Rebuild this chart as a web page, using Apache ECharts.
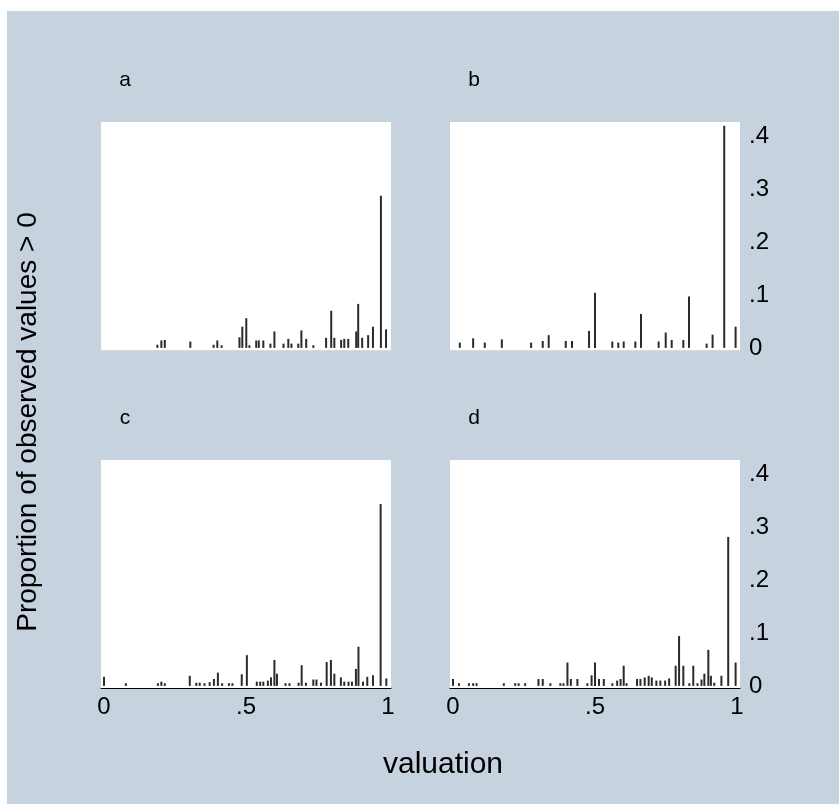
<!DOCTYPE html>
<html>
<head>
<meta charset="utf-8">
<script src="https://cdn.jsdelivr.net/npm/echarts@6/dist/echarts.min.js"></script>
<style>
html,body{margin:0;padding:0;background:#fff;}
#chart{width:839px;height:804px;}
</style>
</head>
<body>
<div id="chart"></div>
<script>
// ---- data ----
const panelLetters = ['a', 'b', 'c', 'd'];
const xTickValues = [0, 0.5, 1];
const xTickLabels = ['0', '.5', '1'];
const yTickValues = [0, 0.1, 0.2, 0.3, 0.4];
const yTickLabels = ['0', '.1', '.2', '.3', '.4'];
const xAxisTitle = 'valuation';
const yAxisTitle = 'Proportion of observed values > 0';

const aX = [0.188,0.202,0.214,0.304,0.386,0.399,0.414,0.477,0.487,0.501,0.512,0.536,0.545,0.561,0.586,0.600,0.632,0.649,0.660,0.684,0.695,0.712,0.737,0.782,0.800,0.811,0.835,0.846,0.860,0.888,0.895,0.909,0.930,0.947,0.975,0.993];
const aY = [0.006,0.014,0.015,0.012,0.006,0.014,0.005,0.020,0.040,0.056,0.005,0.014,0.014,0.014,0.008,0.031,0.008,0.017,0.008,0.008,0.033,0.017,0.005,0.019,0.070,0.019,0.015,0.017,0.017,0.031,0.083,0.019,0.024,0.040,0.287,0.035];

const bX = [0.024,0.071,0.112,0.172,0.275,0.316,0.337,0.397,0.419,0.479,0.500,0.561,0.582,0.601,0.642,0.662,0.724,0.749,0.770,0.811,0.831,0.893,0.914,0.955,0.995];
const bY = [0.010,0.018,0.010,0.016,0.010,0.013,0.024,0.013,0.013,0.032,0.104,0.012,0.010,0.012,0.012,0.064,0.012,0.029,0.015,0.015,0.097,0.008,0.025,0.419,0.040];

const cX = [0.000,0.077,0.190,0.202,0.214,0.302,0.325,0.337,0.354,0.372,0.387,0.401,0.416,0.440,0.452,0.485,0.503,0.538,0.550,0.561,0.577,0.588,0.600,0.609,0.639,0.653,0.685,0.696,0.711,0.737,0.748,0.764,0.784,0.799,0.811,0.834,0.846,0.861,0.873,0.887,0.896,0.912,0.927,0.947,0.974,0.994];
const cY = [0.017,0.005,0.005,0.008,0.005,0.019,0.006,0.006,0.005,0.007,0.013,0.025,0.005,0.005,0.005,0.022,0.058,0.008,0.008,0.008,0.010,0.016,0.049,0.023,0.005,0.005,0.006,0.039,0.006,0.012,0.012,0.006,0.045,0.049,0.023,0.016,0.008,0.008,0.008,0.032,0.074,0.008,0.017,0.020,0.343,0.014];

const dX = [0.000,0.021,0.056,0.071,0.083,0.179,0.219,0.231,0.254,0.301,0.316,0.343,0.378,0.389,0.403,0.415,0.438,0.473,0.488,0.500,0.514,0.531,0.561,0.578,0.590,0.601,0.611,0.648,0.660,0.675,0.689,0.700,0.716,0.730,0.747,0.761,0.784,0.796,0.811,0.832,0.846,0.861,0.875,0.885,0.899,0.908,0.920,0.945,0.969,0.995];
const dY = [0.013,0.005,0.005,0.005,0.005,0.005,0.005,0.005,0.005,0.013,0.013,0.005,0.005,0.005,0.044,0.013,0.013,0.005,0.020,0.044,0.013,0.013,0.005,0.010,0.013,0.038,0.005,0.013,0.013,0.016,0.019,0.016,0.010,0.010,0.010,0.014,0.038,0.094,0.038,0.005,0.038,0.005,0.012,0.023,0.068,0.019,0.006,0.019,0.281,0.044];

const panelXs = [aX, bX, cX, dX];
const panelYs = [aY, bY, cY, dY];

// ---- layout ----
const FONT = 'Liberation Sans, Arial, sans-serif';
const BG = '#c6d2de';
const BAR = '#2a2a2a';
const PW = 290, PH = 228;
const lefts = [101, 450, 101, 450];
const tops = [122, 122, 460, 460];
const X_MIN = -0.0105, X_MAX = 1.0105;
const Y_MIN = -0.004, Y_MAX = -0.004 + 228 / 530;

const grids = [], xAxes = [], yAxes = [], series = [];
const graphics = [
  {type: 'rect', shape: {x: 7, y: 11, width: 832, height: 793}, style: {fill: BG}, z: -10}
];

for (let i = 0; i < 4; i++) {
  const isBottom = i >= 2;
  const isRight = i % 2 === 1;
  grids.push({left: lefts[i], top: tops[i], width: PW, height: PH, show: true, backgroundColor: '#ffffff', borderWidth: 0, containLabel: false});
  xAxes.push({
    type: 'value', gridIndex: i, min: X_MIN, max: X_MAX,
    splitLine: {show: false},
    axisLine: {show: true, onZero: false, lineStyle: {color: isBottom ? '#000' : '#d8d8d8', width: 1}},
    axisTick: {show: false},
    axisLabel: {
      show: isBottom, customValues: xTickValues, margin: 7,
      fontFamily: FONT, fontSize: 24, color: '#000',
      formatter: v => { const k = xTickValues.findIndex(t => Math.abs(t - v) < 1e-6); return k >= 0 ? xTickLabels[k] : ''; }
    }
  });
  yAxes.push({
    type: 'value', gridIndex: i, min: Y_MIN, max: Y_MAX, position: 'right',
    splitLine: {show: false},
    axisLine: {show: false},
    axisTick: {show: false},
    axisLabel: {
      show: isRight, customValues: yTickValues, margin: 9,
      fontFamily: FONT, fontSize: 24, color: '#000', align: 'left',
      formatter: v => { const k = yTickValues.findIndex(t => Math.abs(t - v) < 1e-6); return k >= 0 ? yTickLabels[k] : ''; }
    }
  });
  series.push({
    type: 'bar', xAxisIndex: i, yAxisIndex: i, barWidth: 2,
    itemStyle: {color: BAR}, silent: true, animation: false,
    data: panelXs[i].map((x, j) => [x, panelYs[i][j]])
  });
  graphics.push({
    type: 'text', x: lefts[i] + 24, y: tops[i] - 42,
    style: {text: panelLetters[i], font: '21px ' + FONT, fill: '#000', align: 'center', verticalAlign: 'middle'}
  });
}

graphics.push({
  type: 'text', x: 443, y: 765,
  style: {text: xAxisTitle, font: '30px ' + FONT, fill: '#000', align: 'center', verticalAlign: 'middle'}
});
graphics.push({
  type: 'text', x: 28, y: 422, rotation: Math.PI / 2,
  style: {text: yAxisTitle, font: '28px ' + FONT, fill: '#000', align: 'center', verticalAlign: 'middle'}
});

const chart = echarts.init(document.getElementById('chart'), null, {renderer: 'canvas'});
chart.setOption({
  backgroundColor: '#ffffff',
  animation: false,
  grid: grids, xAxis: xAxes, yAxis: yAxes, series: series,
  graphic: graphics
});
</script>
</body>
</html>
